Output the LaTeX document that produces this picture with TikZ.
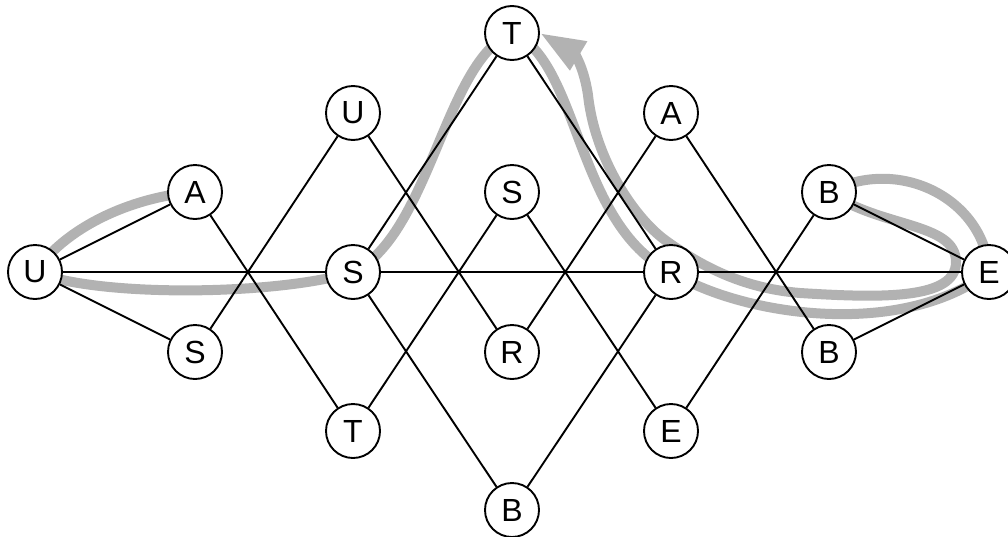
\documentclass[tikz,border=0pt]{standalone}
\usepackage{fontspec}
\setmainfont{Liberation Sans}
\usetikzlibrary{arrows.meta}
\pgfdeclarelayer{bg}
\pgfsetlayers{bg,main}
\begin{document}
\begin{tikzpicture}[x=1pt,y=-1pt,
  st/.style={circle,draw,line width=1.9pt,fill=white,minimum size=54pt,inner sep=0pt,font=\fontsize{32}{32}\selectfont},
  link/.style={line width=1.9pt},
  walk/.style={line width=10pt,draw=black!30,line join=round,-{Triangle[length=45pt,width=31pt]}}]
\useasboundingbox (0,0) rectangle (1008,536);
% nodes
\node[st] (U0) at (35,272) {U};
\node[st] (A1) at (195,192) {A};
\node[st] (S1) at (195,352) {S};
\node[st] (U2) at (353,113) {U};
\node[st] (S2) at (353,272) {S};
\node[st] (T2) at (353,431) {T};
\node[st] (T3) at (512,33) {T};
\node[st] (S3) at (512,192) {S};
\node[st] (R3) at (512,352) {R};
\node[st] (B3) at (512,510) {B};
\node[st] (A4) at (671,113) {A};
\node[st] (R4) at (671,272) {R};
\node[st] (E4) at (671,431) {E};
\node[st] (B5) at (829,192) {B};
\node[st] (B6) at (829,352) {B};
\node[st] (E6) at (989,272) {E};
% gray walk
\begin{pgfonlayer}{bg}
\draw[walk] (A1.center) .. controls (140,196) and (70,222) .. (U0.center)
  .. controls (100,298) and (280,295) .. (S2.center)
  .. controls (430,235) and (445,60) .. (T3.center)
  .. controls (580,60) and (575,225) .. (R4.center)
  .. controls (740,315) and (900,340) .. (E6.center)
  .. controls (985,200) and (900,155) .. (B5.center)
  .. controls (880,228) and (956,222) .. (956,262)
  .. controls (956,300) and (880,298) .. (800,293)
  .. controls (740,288) and (698,264) .. (665,240)
  .. controls (635,218) and (595,160) .. (588,95)
  .. controls (583,62) and (572,52) .. (T3.east);
\end{pgfonlayer}
% edges
\draw[link] (U0)--(A1) (U0)--(S1) (U0)--(S2) (S2)--(R4) (R4)--(E6)
  (A1)--(T2) (S1)--(U2) (S2)--(T3) (S2)--(B3) (U2)--(R3) (T2)--(S3)
  (T3)--(R4) (S3)--(E4) (R3)--(A4) (B3)--(R4) (A4)--(B6) (E4)--(B5)
  (B5)--(E6) (B6)--(E6);
\end{tikzpicture}
\end{document}
